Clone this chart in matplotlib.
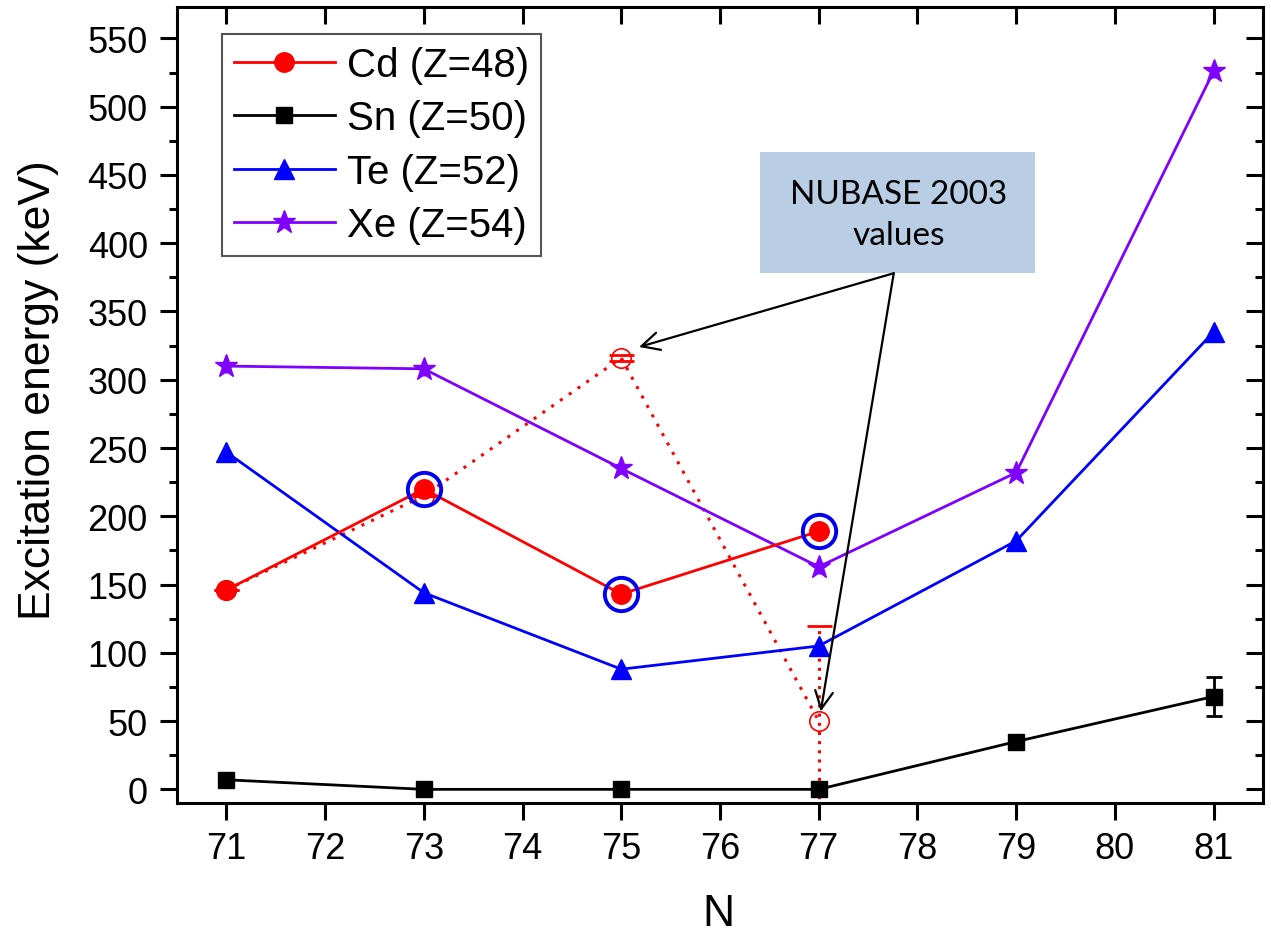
import matplotlib.pyplot as plt
from matplotlib.patches import Rectangle
from matplotlib.ticker import MultipleLocator

# Isomer excitation energies vs neutron number
N_cd = [71, 73, 75, 77]
E_cd = [146, 220, 143, 189]
err_cd = [4, 4, 3, 4]

N_sn = [71, 73, 75, 77, 79, 81]
E_sn = [7, 0, 0, 0, 35, 68]
err_sn = [4, 0, 0, 0, 4, 14]

N_te = [71, 73, 75, 77, 79, 81]
E_te = [247, 144, 88, 105, 182, 335]
err_te = [7, 6, 3, 3, 3, 4]

N_xe = [71, 73, 75, 77, 79, 81]
E_xe = [310, 308, 235, 163, 232, 526]
err_xe = [5, 5, 4, 5, 3, 5]

# NUBASE 2003 values for Cd
N_nub = [71, 73, 75, 77]
E_nub = [146, 215, 316, 50]
err_nub = [0, 0, 2, 70]

# Cd points that were re-measured
N_new = [73, 75, 77]
E_new = [220, 143, 189]

plt.rcParams['font.family'] = ['Liberation Sans', 'DejaVu Sans']

fig = plt.figure(figsize=(12.71, 9.45), dpi=100)
ax = fig.add_axes([177/1271, 1-804/945, (1263-177)/1271, (804-8)/945])

# nubase dotted line + error bars
ax.plot(N_nub, E_nub, color='red', ls=(0, (1, 2.5)), lw=2.2, marker='o', ms=14,
        mfc='none', mec='red', mew=1.2, zorder=2)
eb = ax.errorbar(N_nub, E_nub, yerr=err_nub, fmt='none', ecolor='red',
                 elinewidth=2.2, capsize=9, capthick=2, zorder=2)
for c in eb[2]:
    c.set_linestyle((0, (1, 2)))

styles = [
    (N_xe, E_xe, err_xe, '#7f00ff', '*', 17, 'Xe (Z=54)', 0),
    (N_te, E_te, err_te, '#0000ff', '^', 14, 'Te (Z=52)', 0),
    (N_sn, E_sn, err_sn, 'black', 's', 11, 'Sn (Z=50)', 6),
    (N_cd, E_cd, err_cd, '#ff0000', 'o', 14, 'Cd (Z=48)', 0),
]
handles = {}
for x, y, e, col, mk, ms, lab, cap in styles:
    ax.errorbar(x, y, yerr=e, fmt='none', ecolor=col, elinewidth=2,
                capsize=cap, capthick=2, zorder=3)
    h, = ax.plot(x, y, color=col, lw=2, marker=mk, ms=ms, mec=col, mfc=col,
                 label=lab, zorder=4)
    handles[lab] = h

# circles around the new Cd values
ax.plot(N_new, E_new, ls='none', marker='o', ms=24, mfc='none', mec='#0000ee',
        mew=2.8, zorder=5)

ax.set_xlim(70.5, 81.5)
ax.set_ylim(-10, 573)
ax.xaxis.set_major_locator(MultipleLocator(1))
ax.yaxis.set_major_locator(MultipleLocator(50))
ax.yaxis.set_minor_locator(MultipleLocator(25))

for s in ax.spines.values():
    s.set_linewidth(2.2)
ax.tick_params(which='both', width=2.2, labelsize=26)
ax.tick_params(which='major', length=12)
ax.tick_params(which='minor', length=6)
ax.tick_params(axis='x', which='both', direction='out', pad=8, top=False)
ax.tick_params(axis='y', which='both', direction='out', pad=9, right=False)
# inward ticks on top and right
ax2 = ax.secondary_xaxis('top')
ax2.xaxis.set_major_locator(MultipleLocator(1))
ax2.tick_params(direction='in', length=12, width=2.2, labeltop=False)
ax3 = ax.secondary_yaxis('right')
ax3.yaxis.set_major_locator(MultipleLocator(50))
ax3.yaxis.set_minor_locator(MultipleLocator(25))
ax3.tick_params(which='major', direction='in', length=12, width=2.2, labelright=False)
ax3.tick_params(which='minor', direction='in', length=6, width=2.2)

fig.text(39/1271, 1-390/945, 'Excitation energy (keV)', rotation=90,
         ha='center', va='center', fontsize=32)
fig.text(718/1271, 1-915/945, 'N', ha='center', va='center', fontsize=32)

order = ['Cd (Z=48)', 'Sn (Z=50)', 'Te (Z=52)', 'Xe (Z=54)']
leg = ax.legend([handles[k] for k in order], order, loc='upper left',
                bbox_to_anchor=(222/1271, 1-35/945), bbox_transform=fig.transFigure,
                fontsize=29, handlelength=2.5, handletextpad=0.3, labelspacing=0.38,
                borderpad=0.3, borderaxespad=0, fancybox=False, framealpha=1)
leg.get_frame().set_edgecolor('#555555')
leg.get_frame().set_linewidth(1.5)

# annotation box
ax.add_patch(Rectangle((76.41, 378), 2.78, 89, facecolor='#b9cde5',
                       edgecolor='none', zorder=6))
ax.text(77.81, 421, 'NUBASE 2003\nvalues', ha='center', va='center',
        fontsize=24, family=['Lato', 'DejaVu Sans'], linespacing=1.45, zorder=7)
for tx, ty in [(75.18, 324), (77.02, 57)]:
    ax.annotate('', xy=(tx, ty), xytext=(77.76, 378),
                arrowprops=dict(arrowstyle='->', lw=1.6, color='black',
                                mutation_scale=32, shrinkA=0, shrinkB=0),
                zorder=6)

fig.savefig('out.png', dpi=100)
